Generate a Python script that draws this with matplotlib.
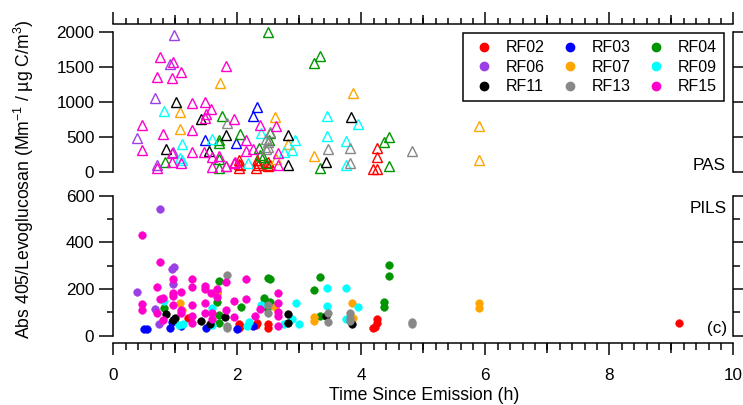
import matplotlib
matplotlib.use('Agg')
import matplotlib.pyplot as plt
from matplotlib.ticker import MultipleLocator, NullFormatter
from matplotlib.lines import Line2D

plt.rcParams['font.family'] = ['Liberation Sans', 'DejaVu Sans']
plt.rcParams['font.size'] = 12.3
plt.rcParams['mathtext.default'] = 'regular'

# ---------------- data ----------------
flights = ['RF02', 'RF03', 'RF04', 'RF06', 'RF07', 'RF09', 'RF11', 'RF13', 'RF15']
colors = ['#FF0000', '#0000FF', '#009400', '#9B40E5', '#FFA500', '#00FFFF',
          '#000000', '#888888', '#FF00CC']

# PAS (upper panel)
rf02_pas_x = [2.03, 2.03, 2.03, 2.05, 2.30, 2.31, 2.31, 2.33, 2.49, 2.50, 2.52, 4.19, 4.25, 4.26, 4.26]
rf02_pas_y = [60, 110, 165, 90, 60, 120, 170, 90, 80, 140, 100, 40, 40, 214, 334]
rf03_pas_x = [1.48, 1.98, 2.25, 2.32]
rf03_pas_y = [453, 406, 800, 920]
rf04_pas_x = [0.83, 1.70, 1.70, 1.75, 1.70, 1.70, 2.05, 2.35, 2.36, 2.42, 2.47, 2.49, 2.51, 2.53,
              3.24, 3.33, 3.33, 4.37, 4.44, 4.44]
rf04_pas_y = [134, 453, 406, 800, 181, 57, 534, 334, 239, 214, 120, 2000, 453, 549,
              1549, 1653, 57, 429, 491, 81]
rf06_pas_x = [0.39, 0.68, 0.71, 0.91, 0.96, 0.98]
rf06_pas_y = [477, 1060, 95, 1545, 286, 1953]
rf07_pas_x = [1.07, 1.07, 1.72, 2.61, 2.62, 2.82, 3.23, 3.86, 5.90, 5.90]
rf07_pas_y = [849, 606, 1272, 777, 177, 391, 224, 1120, 653, 167]
rf09_pas_x = [0.81, 1.07, 1.10, 1.10, 1.59, 2.17, 2.39, 2.76, 2.88, 2.93, 3.44, 3.44, 3.76, 3.76, 3.94]
rf09_pas_y = [867, 191, 396, 167, 463, 120, 560, 286, 310, 453, 800, 510, 439, 96, 677]
rf11_pas_x = [0.85, 1.01, 1.42, 1.55, 1.81, 2.82, 2.82, 3.43, 3.84]
rf11_pas_y = [324, 995, 750, 298, 524, 524, 100, 136, 775]
rf13_pas_x = [1.82, 1.83, 2.46, 2.47, 2.50, 2.50, 2.52, 3.47, 3.82, 3.82, 4.81]
rf13_pas_y = [86, 696, 463, 324, 357, 429, 570, 322, 343, 125, 300]
rf15_pas_x = [0.47, 0.47, 0.71, 0.71, 0.76, 0.80, 0.95, 0.95, 0.95, 0.97, 1.09, 1.09, 1.27, 1.27,
              1.27, 1.47, 1.48, 1.50, 1.48, 1.58, 1.59, 1.59, 1.71, 1.81, 1.82, 1.95, 1.96, 1.94,
              2.14, 2.14, 2.25, 2.36, 2.63, 2.65, 2.65]
rf15_pas_y = [667, 310, 1349, 49, 1634, 534, 1343, 263, 143, 1563, 1429, 120, 986, 590,
              286, 286, 991, 820, 772, 891, 71, 214, 229, 1510, 86, 753, 143, 129,
              453, 296, 324, 667, 653, 272, 96]

# PILS (lower panel)
rf02_pils_x = [1.20, 2.03, 2.03, 2.05, 2.30, 2.31, 2.49, 2.50, 4.19, 4.22, 4.25, 4.26, 9.13]
rf02_pils_y = [78, 50, 33, 42, 46, 54, 50, 32, 33, 39, 53, 72, 56]
rf03_pils_x = [0.50, 0.54, 0.91, 0.94, 1.09, 1.50, 1.99, 2.26]
rf03_pils_y = [27, 29, 32, 60, 43, 34, 27, 43]
rf04_pils_x = [0.82, 1.68, 1.68, 1.70, 1.70, 1.70, 2.06, 2.43, 2.45, 2.48, 2.49, 2.53, 2.53,
               3.24, 3.33, 3.33, 4.37, 4.37, 4.44, 4.44]
rf04_pils_y = [120, 189, 146, 236, 89, 53, 122, 160, 150, 118, 249, 243, 146,
               196, 253, 86, 146, 124, 256, 302]
rf06_pils_x = [0.39, 0.68, 0.73, 0.76, 0.94, 0.96, 0.98]
rf06_pils_y = [186, 113, 50, 542, 285, 222, 293]
rf07_pils_x = [1.07, 1.10, 1.68, 2.61, 3.23, 3.23, 3.85, 3.87, 5.90, 5.90]
rf07_pils_y = [141, 110, 180, 124, 81, 65, 139, 75, 139, 117]
rf09_pils_x = [0.81, 1.06, 1.12, 1.59, 1.59, 2.15, 2.19, 2.39, 2.76, 2.89, 2.94, 3.00, 3.44, 3.44,
               3.76, 3.76, 3.94]
rf09_pils_y = [150, 46, 50, 117, 46, 43, 60, 132, 50, 70, 139, 49, 203, 127, 206, 70, 124]
rf11_pils_x = [0.85, 0.97, 0.99, 1.42, 1.56, 1.80, 2.82, 2.82, 3.43, 3.85]
rf11_pils_y = [94, 66, 78, 63, 50, 82, 92, 56, 84, 49]
rf13_pils_x = [1.83, 1.83, 1.83, 2.50, 2.50, 3.47, 3.47, 3.82, 3.82, 3.82, 4.81, 4.81]
rf13_pils_y = [260, 32, 40, 132, 96, 96, 60, 96, 75, 62, 60, 50]
rf15_pils_x = [0.47, 0.47, 0.47, 0.70, 0.71, 0.76, 0.76, 0.80, 0.80, 0.96, 0.96, 0.96, 0.96,
               1.09, 1.09, 1.09, 1.27, 1.27, 1.27, 1.27, 1.27, 1.48, 1.48, 1.48, 1.48, 1.57,
               1.59, 1.59, 1.68, 1.68, 1.82, 1.82, 1.95, 1.95, 2.14, 2.14, 2.29, 2.37,
               2.65, 2.65, 2.65, 2.65, 2.65]
rf15_pils_y = [432, 136, 110, 99, 210, 315, 156, 160, 67, 242, 182, 170, 132,
               189, 110, 96, 244, 207, 132, 84, 56, 213, 199, 141, 96, 182,
               99, 70, 201, 167, 231, 110, 150, 79, 243, 157, 84, 114,
               184, 141, 103, 84, 43]

pas_x = [rf02_pas_x, rf03_pas_x, rf04_pas_x, rf06_pas_x, rf07_pas_x, rf09_pas_x, rf11_pas_x, rf13_pas_x, rf15_pas_x]
pas_y = [rf02_pas_y, rf03_pas_y, rf04_pas_y, rf06_pas_y, rf07_pas_y, rf09_pas_y, rf11_pas_y, rf13_pas_y, rf15_pas_y]
pils_x = [rf02_pils_x, rf03_pils_x, rf04_pils_x, rf06_pils_x, rf07_pils_x, rf09_pils_x, rf11_pils_x, rf13_pils_x, rf15_pils_x]
pils_y = [rf02_pils_y, rf03_pils_y, rf04_pils_y, rf06_pils_y, rf07_pils_y, rf09_pils_y, rf11_pils_y, rf13_pils_y, rf15_pils_y]

# ---------------- figure ----------------
W, H = 743, 405
PX = 0.72  # px -> pt at dpi 100
LW = 1.5 * PX
fig = plt.figure(figsize=(W / 100, H / 100), dpi=100)


def rect(x0, y0, x1, y1):
    return [x0 / W, 1 - y1 / H, (x1 - x0) / W, (y1 - y0) / H]


pos_top = rect(113.3, 31.7, 733.3, 171.7)
pos_bot = rect(113.3, 195.7, 733.3, 335.7)
ax_top = fig.add_axes(pos_top)
ax_bot = fig.add_axes(pos_bot)


def style(ax, side, off_px):
    other = 'bottom' if side == 'top' else 'top'
    ax.set_xlim(0, 10)
    for s in ax.spines.values():
        s.set_linewidth(LW)
    ax.spines[other].set_visible(False)
    ax.spines[side].set_position(('outward', off_px * PX))
    ax.xaxis.set_ticks_position(side)
    ax.xaxis.set_major_locator(MultipleLocator(2))
    ax.xaxis.set_minor_locator(MultipleLocator(0.2))
    ax.tick_params(axis='x', which='major', length=12 * PX, width=LW, direction='out', pad=9.5)
    ax.tick_params(axis='x', which='minor', length=6.5 * PX, width=LW, direction='out')
    ax.yaxis.set_ticks_position('both')
    ax.tick_params(axis='y', which='major', length=14.5 * PX, width=LW, direction='out',
                   left=True, right=True, labelright=False, pad=3.2)
    ax.tick_params(axis='y', which='minor', length=6.5 * PX, width=LW, direction='out',
                   left=True, right=True)
    ax.patch.set_visible(False)


def mid_ticks(pos, side, off_px):
    a = fig.add_axes(pos)
    a.set_xlim(0, 10)
    a.patch.set_visible(False)
    for s in a.spines.values():
        s.set_visible(False)
    a.spines[side].set_position(('outward', off_px * PX))
    a.xaxis.set_ticks_position(side)
    a.set_xticks([1, 3, 5, 7, 9])
    a.xaxis.set_major_formatter(NullFormatter())
    a.tick_params(axis='x', length=9.5 * PX, width=LW, direction='out')
    a.set_yticks([])


style(ax_top, 'top', 7.7)
style(ax_bot, 'bottom', 7.0)
ax_top.tick_params(axis='x', labeltop=False, labelbottom=False)

ax_top.set_ylim(0, 2000)
ax_top.set_yticks([0, 500, 1000, 1500, 2000])
ax_bot.set_ylim(0, 600)
ax_bot.set_yticks([0, 200, 400, 600])
ax_bot.yaxis.set_minor_locator(MultipleLocator(100))
ax_bot.set_xticks([0, 2, 4, 6, 8, 10])

mid_ticks(pos_top, 'top', 7.7)
mid_ticks(pos_bot, 'bottom', 7.0)

for i, c in enumerate(colors):
    ax_top.plot(pas_x[i], pas_y[i], ls='none', marker='^', ms=6.5, mfc='none',
                mec=c, mew=1.0, clip_on=False)
    ax_bot.plot(pils_x[i], pils_y[i], ls='none', marker='o', ms=5.6, mfc=c,
                mec=c, mew=0.3, clip_on=False)

# legend (row-wise order)
handles = [Line2D([], [], ls='none', marker='o', ms=6, mfc=c, mec=c) for c in colors]
order = [0, 3, 6, 1, 4, 7, 2, 5, 8]
leg = ax_top.legend([handles[k] for k in order], [flights[k] for k in order], ncol=3,
                    loc='upper left',
                    bbox_to_anchor=((462.7 - 113.3) / 620, (171.7 - 33) / 140),
                    borderaxespad=0, frameon=True, fancybox=False, edgecolor='black',
                    framealpha=1, handlelength=1.8, handletextpad=0.46,
                    columnspacing=0.68, borderpad=0.45, labelspacing=0.28, fontsize=11.5)
leg.get_frame().set_linewidth(LW)

fig.text(726 / W, 1 - 170 / H, 'PAS', ha='right', va='baseline', fontsize=12.3)
fig.text(727 / W, 1 - 213 / H, 'PILS', ha='right', va='baseline', fontsize=12.3)
fig.text(727 / W, 1 - 333 / H, '(c)', ha='right', va='baseline', fontsize=12.3)

fig.text(24 / W, 1 - 179 / H, 'Abs 405/Levoglucosan (Mm$^{-1}$ / µg C/m$^{3}$)',
         rotation=90, ha='center', va='center', fontsize=12.7)
fig.text(424.5 / W, 1 - 396 / H, 'Time Since Emission (h)', ha='center', va='center',
         fontsize=12.7)

fig.savefig('out.png', dpi=100)
